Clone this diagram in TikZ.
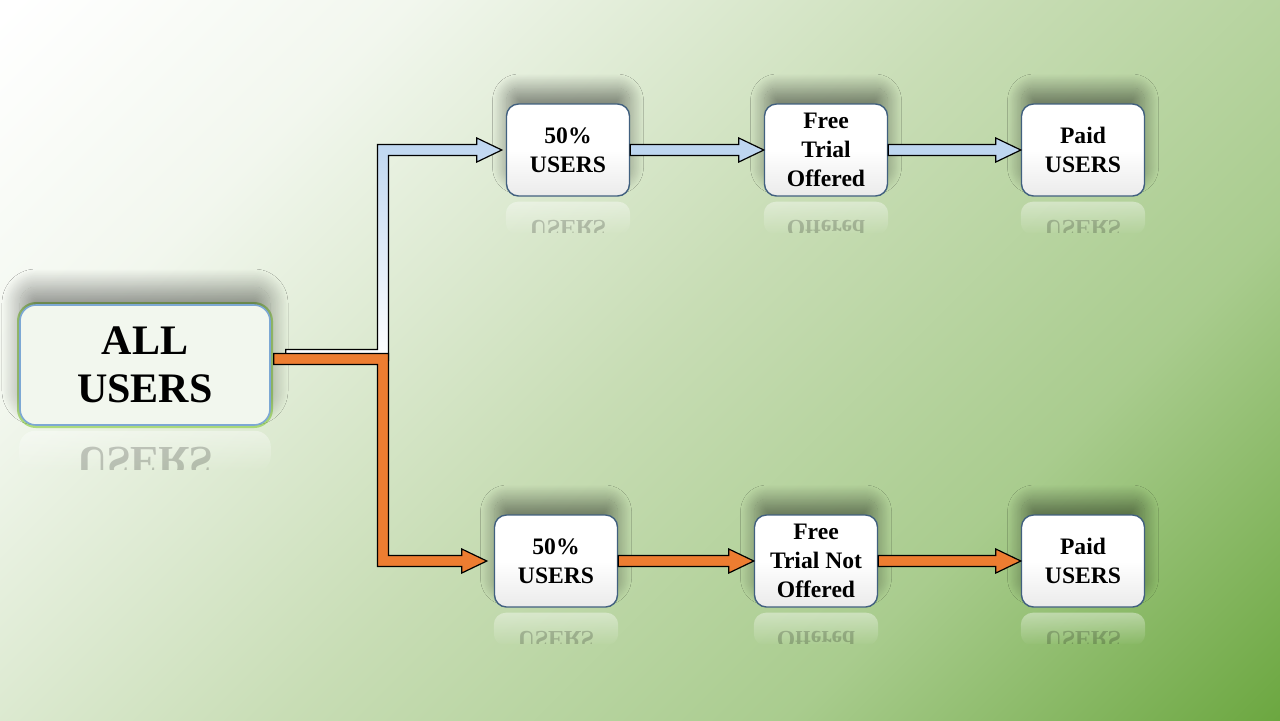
\documentclass[tikz,border=0pt]{standalone}
\usepackage{fontspec}
\setmainfont{Liberation Serif}
\usetikzlibrary{calc,fadings,shadows.blur}

\definecolor{bglight}{RGB}{242,247,238}
\definecolor{bgmid}{RGB}{200,221,181}
\definecolor{bgmidd}{RGB}{169,204,142}
\definecolor{bgdark}{RGB}{106,166,62}
\definecolor{boxline}{RGB}{65,96,127}
\definecolor{allline}{RGB}{125,168,212}
\definecolor{glowgreen}{RGB}{146,208,80}
\definecolor{arrowblue}{RGB}{190,214,240}
\definecolor{arroworange}{RGB}{237,125,49}

\pgfdeclarehorizontalshading{bgshade}{100bp}{color(0bp)=(white); color(15bp)=(white); color(29bp)=(bglight); color(50bp)=(bgmid); color(68bp)=(bgmidd); color(86bp)=(bgdark); color(100bp)=(bgdark)}

% arrow sizes
\newcommand{\arrshaft}{2.75pt}
\newcommand{\arrhead}{6pt}
\newcommand{\arrlen}{12.5pt}

\tikzset{
    userbox/.style = {rectangle, rounded corners=6pt, draw=boxline, line width=0.7pt,
        top color=white, bottom color=black!8, middle color=white,
        minimum width=61.5pt, minimum height=46pt, inner sep=0pt, align=center,
        font=\bfseries\fontsize{11.8}{14.5}\selectfont,
        blur shadow={shadow xshift=0pt, shadow yshift=8pt, shadow blur radius=7pt, shadow blur steps=30, shadow opacity=40}},
    allbox/.style = {rectangle, rounded corners=8pt, draw=allline, line width=0.8pt, fill=bglight,
        preaction={draw=glowgreen, line width=3pt, opacity=.7},
        minimum width=125pt, minimum height=60pt, inner sep=0pt, align=center,
        font=\bfseries\fontsize{21}{24}\selectfont,
        blur shadow={shadow xshift=0pt, shadow yshift=9pt, shadow blur radius=9pt, shadow blur steps=30, shadow opacity=40}},
    reflecttext/.style = {yscale=-1, anchor=base, opacity=.2, inner sep=0pt},
    blockblue/.style = {draw=black, line width=0.6pt, fill=arrowblue},
    bentblue/.style = {draw=black, line width=0.6pt, top color=arrowblue, bottom color=white},
    blockorange/.style = {draw=black, line width=0.6pt, fill=arroworange}
}

\begin{document}
\begin{tikzpicture}[x=0.5pt,y=0.5pt]
                        \useasboundingbox (0,0) rectangle (1280,-720);
                        \shade[shading=bgshade, shading angle=-45] (0,0) rectangle (1280,-720);

                        % boxes
                        \node[allbox] (all) at (145,-365) {ALL\\USERS};
                        \node[userbox] (t1) at (568,-150) {50\%\\USERS};
                        \node[userbox] (t2) at (826,-150) {Free\\Trial\\Offered};
                        \node[userbox] (t3) at (1083,-150) {Paid\\USERS};
                        \node[userbox] (b1) at (556,-561) {50\%\\USERS};
                        \node[userbox] (b2) at (816,-561) {Free\\Trial Not\\Offered};
                        \node[userbox] (b3) at (1083,-561) {Paid\\USERS};
                        \coordinate (split) at (383,-357);

                        % reflections
                        \foreach \n/\t in {t1/USERS,t2/Offered,t3/USERS,b1/USERS,b2/Offered,b3/USERS}
                            {\begin{scope}
                                \clip ($(\n.south west)+(0,-2pt)$) rectangle ($(\n.south east)+(0,-18pt)$);
                                \fill[white, opacity=.4, path fading=south, rounded corners=6pt] ($(\n.south west)+(0,-2.5pt)$) rectangle ($(\n.south east)+(0,-19pt)$);
                                \node[reflecttext, font=\bfseries\fontsize{11.8}{14.5}\selectfont] at ($(\n.south)+(0,-12pt)$) {\t};
                            \end{scope}}
                        \begin{scope}
                            \clip ($(all.south west)+(0,-2pt)$) rectangle ($(all.south east)+(0,-22pt)$);
                            \fill[white, opacity=.4, path fading=south, rounded corners=8pt] ($(all.south west)+(0,-2.5pt)$) rectangle ($(all.south east)+(0,-23pt)$);
                            \node[reflecttext, font=\bfseries\fontsize{21}{24}\selectfont] at ($(all.south)+(0,-11pt)$) {USERS};
                        \end{scope}

                        % bent arrows
                        \draw[bentblue] let \p1=(all.east), \p2=(t1.west), \p3=(split) in
                            (\x1+7.5pt,\y3+1pt+\arrshaft) -- (\x3-\arrshaft,\y3+1pt+\arrshaft) -- (\x3-\arrshaft,\y2+\arrshaft)
                            -- (\x2-2pt-\arrlen,\y2+\arrshaft) -- (\x2-2pt-\arrlen,\y2+\arrhead) -- (\x2-2pt,\y2)
                            -- (\x2-2pt-\arrlen,\y2-\arrhead) -- (\x2-2pt-\arrlen,\y2-\arrshaft) -- (\x3+\arrshaft,\y2-\arrshaft)
                            -- (\x3+\arrshaft,\y3+1pt-\arrshaft) -- (\x1+7.5pt,\y3+1pt-\arrshaft) -- cycle;
                        \draw[blockorange] let \p1=(all.east), \p2=(b1.west), \p3=(split) in
                            (\x1+1.5pt,\y3-1pt+\arrshaft) -- (\x3+\arrshaft,\y3-1pt+\arrshaft) -- (\x3+\arrshaft,\y2+\arrshaft)
                            -- (\x2-3.5pt-\arrlen,\y2+\arrshaft) -- (\x2-3.5pt-\arrlen,\y2+\arrhead) -- (\x2-3.5pt,\y2)
                            -- (\x2-3.5pt-\arrlen,\y2-\arrhead) -- (\x2-3.5pt-\arrlen,\y2-\arrshaft) -- (\x3-\arrshaft,\y2-\arrshaft)
                            -- (\x3-\arrshaft,\y3-1pt-\arrshaft) -- (\x1+1.5pt,\y3-1pt-\arrshaft) -- cycle;

                        % straight arrows
                        \foreach \a/\b/\s in {t1/t2/blockblue,t2/t3/blockblue,b1/b2/blockorange,b2/b3/blockorange}
                            {\draw[\s] let \p1=(\a.east), \p2=(\b.west) in
                                (\x1,\y1+\arrshaft) -- (\x2-\arrlen,\y1+\arrshaft) -- (\x2-\arrlen,\y1+\arrhead) -- (\x2,\y1)
                                -- (\x2-\arrlen,\y1-\arrhead) -- (\x2-\arrlen,\y1-\arrshaft) -- (\x1,\y1-\arrshaft) -- cycle;}
                    \end{tikzpicture}
\end{document}
